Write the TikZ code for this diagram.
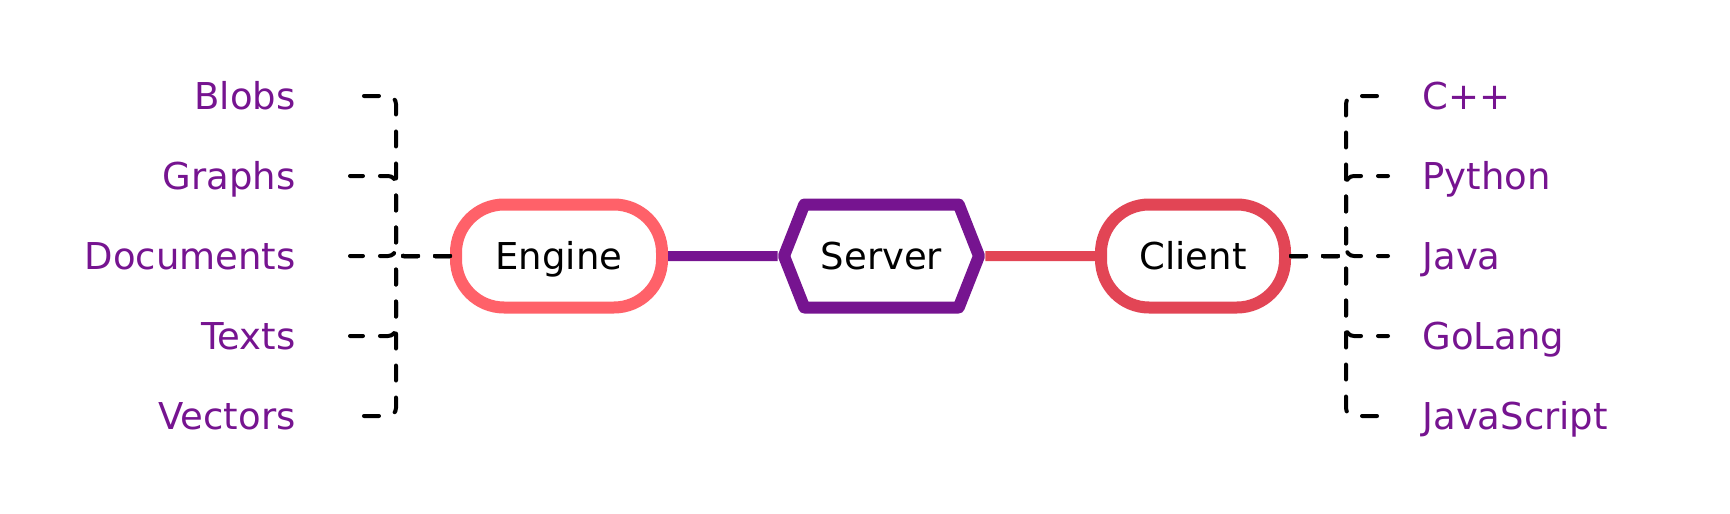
\documentclass[tikz,border=0pt]{standalone}
\usepackage{fontspec}
\setmainfont{DejaVu Sans}
\usetikzlibrary{shapes.symbols}

\definecolor{labelpurple}{HTML}{761490}
\definecolor{enginered}{HTML}{FF6169}
\definecolor{clientred}{HTML}{E24555}

\begin{document}
\begin{tikzpicture}[x=0.5pt, y=-0.5pt,
    every node/.style={font=\fontsize{18.5pt}{22pt}\selectfont, text height=13.6pt, text depth=0pt},
    item/.style={inner sep=0pt, text=labelpurple},
    pill/.style={draw, line width=6pt, rounded corners=24pt, fill=white, minimum height=51.5pt},
    dashline/.style={line width=2pt, dash pattern=on 7.5pt off 8.5pt, line cap=round, rounded corners=4pt}]

    \useasboundingbox (0,0) rectangle (1730,514);

    \coordinate (ljoin) at (396,256);
    \coordinate (rjoin) at (1346,256);

    \node [pill, draw=enginered, minimum width=103pt] (engine) at (559,256) {Engine};
    \node [signal, signal to=west and east, signal pointer angle=137, draw=labelpurple,
        line width=6pt, line join=round, fill=white, minimum width=97.5pt, minimum height=51.5pt] (server) at (881.5,256) {Server};
    \node [pill, draw=clientred, minimum width=92pt] (client) at (1193,256) {Client};

    \draw [labelpurple, line width=5pt] (engine) -- (server);
    \draw [clientred, line width=5pt] (server) -- (client);

    \foreach \name/\txt [count=\i] in {blobs/Blobs, graphs/Graphs, documents/Documents, texts/Texts, vectors/Vectors} {
        \node [item, anchor=east] (\name) at (296,16+80*\i) {\txt};
        \draw [dashline, shorten >=27pt] (engine.west) -- (ljoin) |- (\name.east);
    }

    \foreach \name/\txt [count=\i] in {cpp/C++, python/Python, java/Java, golang/GoLang, javascript/JavaScript} {
        \node [item, anchor=west] (\name) at (1422,16+80*\i) {\txt};
        \draw [dashline, shorten >=17pt] (client.east) -- (rjoin) |- (\name.west);
    }
\end{tikzpicture}
\end{document}
